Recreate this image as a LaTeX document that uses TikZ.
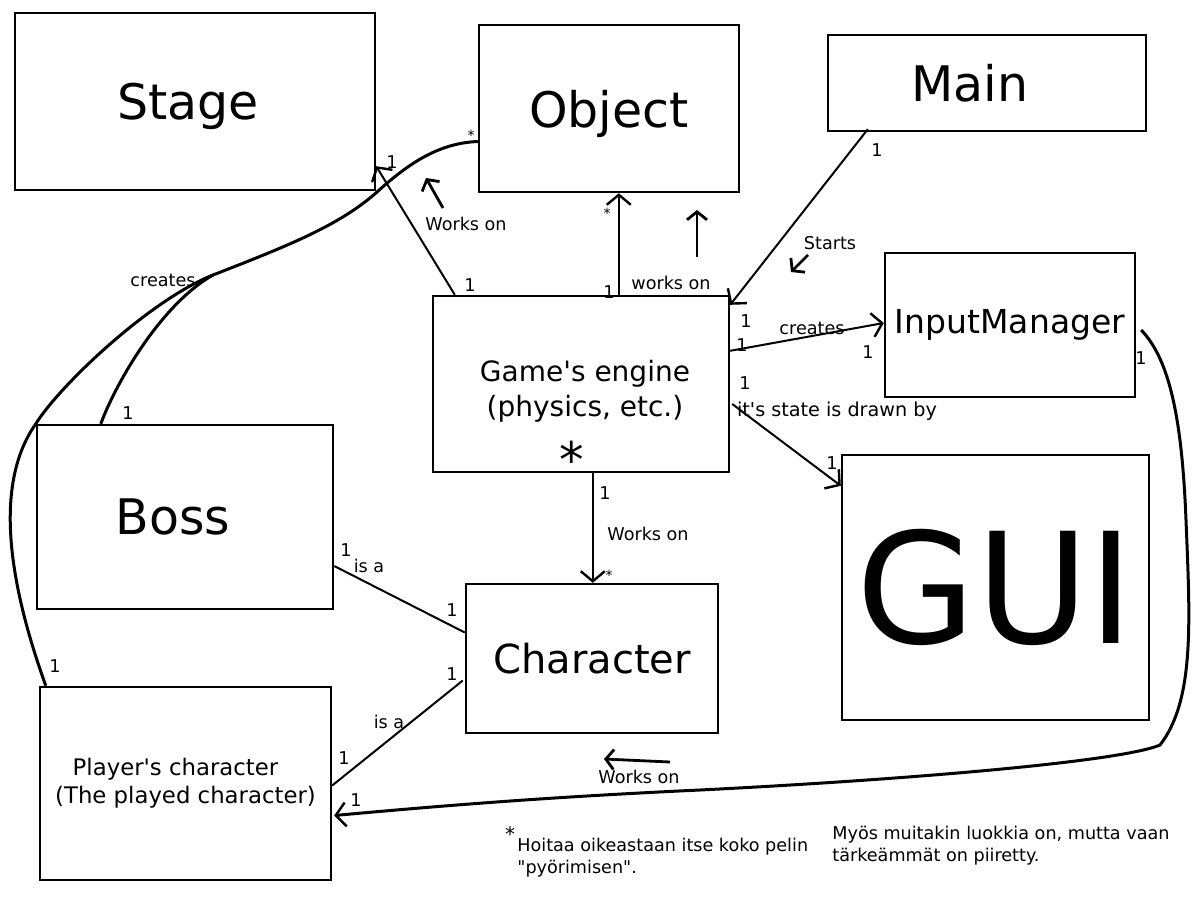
\documentclass[tikz,border=0pt]{standalone}
\usepackage{fontspec}
\setmainfont{DejaVu Sans}
\usetikzlibrary{arrows.meta,calc}
\definecolor{ink}{HTML}{000000}
\newcommand{\boxfont}{\fontsize{24.5}{29}\selectfont}
\newcommand{\guifont}{\fontsize{77}{90}\selectfont}
\newcommand{\midfont}{\fontsize{16.5}{20}\selectfont}
\newcommand{\charfont}{\fontsize{20}{24}\selectfont}
\newcommand{\engfont}{\fontsize{14}{17.5}\selectfont}
\newcommand{\plfont}{\fontsize{11.4}{14}\selectfont}
\newcommand{\fine}{\fontsize{8.8}{11}\selectfont}
\newcommand{\tinystar}{\fontsize{7}{8}\selectfont}
\tikzset{
  box/.style={draw=ink,line width=1.2pt,inner sep=0pt,align=center,text=ink},
  link/.style={draw=ink,line width=1pt},
  arr/.style={-{Straight Barb[length=5pt,width=12pt,line width=1.2pt]}},
  curve/.style={draw=ink,line width=1.5pt},
  hint/.style={draw=ink,line width=1.4pt,-{Straight Barb[length=4pt,width=10pt,line width=1.4pt]}},
  tag/.style={inner sep=0pt,font=\fine,text=ink},
}

\begin{document}
\begin{tikzpicture}[x=0.5pt,y=-0.5pt,font=\fine]
\useasboundingbox (0,0) rectangle (1200,900);
% classes
\node[box,minimum width=180pt,minimum height=88.5pt,font=\boxfont,text depth=0pt] (stage) at (195,101.5) {Stage\hspace*{7pt}};
\node[box,minimum width=130pt,minimum height=83.5pt,font=\boxfont,text depth=0pt] (object) at (609,108.5) {Object};
\node[box,minimum width=159pt,minimum height=48pt,font=\boxfont] (main) at (987,83) {Main\hspace*{17pt}};
\node[box,minimum width=125pt,minimum height=72pt,font=\midfont] (input) at (1010,325) {InputManager};
\node[box,minimum width=148pt,minimum height=88pt] (engine) at (581,384) {};
\node[tag,font=\engfont,align=center] (enginetext) at (585,391) {Game\textquotesingle s engine\\(physics, etc.)};
\node[box,minimum width=153.5pt,minimum height=132.5pt,font=\guifont] (gui) at (995.5,587.5) {GUI};
\node[box,minimum width=148pt,minimum height=92pt,font=\boxfont] (boss) at (185,517) {Boss\hspace*{12pt}};
\node[box,minimum width=126pt,minimum height=74.5pt,font=\charfont] (char) at (592,658.5) {Character};
\node[box,minimum width=145.5pt,minimum height=96.5pt,font=\plfont] (player) at (185.5,783.5) {Player\textquotesingle s character\hspace*{10pt}\\(The played character)};
\node[tag,font=\boxfont,anchor=north] (estar) at (572,441) {*};

% connectors from the engine
\draw[link,arr] ($(engine.north west)+(23,0)$) -- ($(stage.south east)+(0,-25)$);
\draw[link,arr] ($(engine.north west)+(187,0)$) coordinate (eo) -- (eo |- object.south);
\draw[link,arr] ($(main.south west)+(41,-3)$) -- ($(engine.north east)+(0,10)$);
\draw[link,arr] ($(engine.north east)+(0,56)$) -- ($(input.west)+(0,-2)$);
\draw[link,arr] ($(engine.east)+(2,20)$) -- ($(gui.north west)+(0,32)$);
\draw[link,arr] ($(engine.south west)+(161,0)$) coordinate (ec) -- (ec |- char.north);
% is a
\draw[link] ($(boss.east)+(0,49)$) -- ($(char.west)+(0,-26)$);
\draw[link] ($(player.east)+(0,2)$) -- ($(char.west)+(-2,22)$);

% creates (boss, player -> object)
\coordinate (join) at (213,275);
\draw[curve] ($(boss.north west)+(65,0)$) .. controls (115,385) and (160,305) .. (join);
\draw[curve] ($(player.north west)+(7,0)$) .. controls (15,600) and (-11,490) .. (boss.north west)
  .. controls (60,385) and (150,300) .. (join);
\draw[curve] (join) .. controls (290,245) and (340,225) .. (377,192)
  .. controls (410,162) and (440,143) .. ($(object.west)+(0,33)$);
% input manager -> player
\draw[curve,arr] ($(input.east)+(5,5)$) .. controls (1170,360) and (1182,420) .. (1186,520)
  .. controls (1190,620) and (1195,700) .. (1160,745)
  .. controls (1120,762) and (900,780) .. (700,790)
  .. controls (550,797) and (450,805) .. ($(player.east)+(2,32)$);

% multiplicities and labels
\node[tag] (nStage) at (392,162) {1};
\node[tag] (nEngA) at (470,285) {1};
\node[tag] (lWorksA) at (466,224) {Works on};
\node[tag,font=\tinystar] (sObjA) at (471,135) {*};
\node[tag,font=\tinystar] (sObjB) at (607,213) {*};
\node[tag] (nEngB) at (609,292) {1};
\node[tag] (lWorksB) at (671,283) {works on};
\node[tag] (nMain) at (877,150) {1};
\node[tag] (lStarts) at (830,243) {Starts};
\node[tag] (nEngC) at (746,321) {1};
\node[tag] (lCreatesA) at (812,328) {creates};
\node[tag] (nEngD) at (742,345) {1};
\node[tag] (nInputA) at (868,352) {1};
\node[tag] (nEngE) at (745,383) {1};
\node[tag,font=\fontsize{9.6}{11}\selectfont] (lDrawn) at (837,411) {it\textquotesingle s state is drawn by};
\node[tag] (nGui) at (832,463) {1};
\node[tag] (nEngF) at (605,493) {1};
\node[tag] (lWorksC) at (648,534) {Works on};
\node[tag,font=\tinystar] (sChar) at (609,575) {*};
\node[tag] (nBossA) at (346,550) {1};
\node[tag] (lIsA) at (369,566) {is a};
\node[tag] (nCharA) at (452,610) {1};
\node[tag] (nPlayerA) at (344,758) {1};
\node[tag] (lIsB) at (389,722) {is a};
\node[tag] (nCharB) at (452,674) {1};
\node[tag] (lCreatesB) at (163,280) {creates};
\node[tag] (nBossB) at (128,413) {1};
\node[tag] (nPlayerB) at (55,666) {1};
\node[tag] (nInputB) at (1141,358) {1};
\node[tag] (nPlayerC) at (356,800) {1};
\node[tag] (lWorksD) at (639,777) {Works on};

% little direction arrows
\draw[hint] ($(lWorksA)+(-23,-16)$) -- ++(-17,-30);
\draw[hint] ($(lWorksB)+(26,-26)$) -- ++(0,-47);
\draw[hint] ($(lStarts)+(-22,12)$) -- ++(-17,17);
\draw[hint] ($(lWorksD)+(31,-15)$) -- ++(-66,-3);

% notes
\node[tag,font=\fontsize{10}{11}\selectfont,anchor=north] (sNote) at (510,826) {*};
\node[tag,anchor=north west,align=left] (lNoteA) at (517,838) {Hoitaa oikeastaan itse koko pelin\\\textquotedbl pyörimisen\textquotedbl.};
\node[tag,anchor=north west,align=left] (lNoteB) at (832,826) {Myös muitakin luokkia on, mutta vaan\\tärkeämmät on piiretty.};
\end{tikzpicture}
\end{document}
